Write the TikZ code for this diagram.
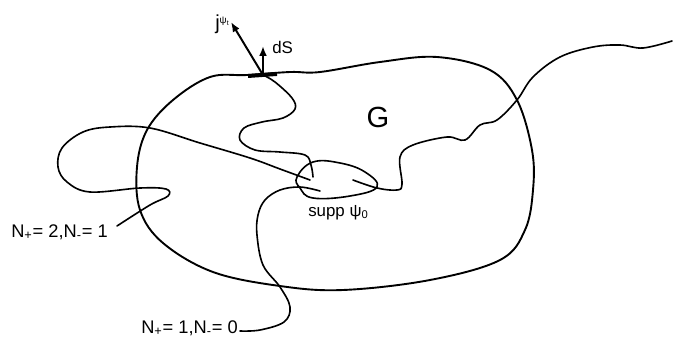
\documentclass[tikz,border=0pt]{standalone}
\usepackage{fontspec}
\setmainfont{Liberation Sans}
\usepackage{tikz}
\usetikzlibrary{positioning,calc,arrows.meta}

\begin{document}
\begin{tikzpicture}[x=0.025cm, y=-0.025cm, >={Latex[length=7pt,width=5.5pt]},
        every node/.style={font=\large, inner sep=0pt},
        count/.style={font=\fontsize{13}{15}\selectfont},
        path/.style={line width=1.15pt, line cap=round},
        region/.style={line width=1.35pt}]
        \useasboundingbox (0,0) rectangle (680,337);
        % region G
        \draw[region] plot[smooth cycle, tension=0.6] coordinates {
            (140,210) (137,167) (147,130) (173,100) (210,77) (247,75) (290,72)
            (320,72) (380,62) (437,57) (490,70) (517,100) (532,150) (533,190)
            (525,230) (500,260) (430,280) (343,290) (280,286) (213,272) (163,243)};
        % support of psi_0
        \draw[path] plot[smooth cycle, tension=0.7] coordinates {
            (297,177) (313,162) (340,163) (365,172) (377,187) (350,196) (313,198) (300,188)};
        % surface element
        \coordinate (base) at (263,75);
        \coordinate (dsTip) at (263,46);
        \coordinate (jTip) at (231,22);
        \draw[line width=2.8pt] (248,76) -- (277,74);
        \draw[->, line width=1.4pt] (base) -- (dsTip);
        \draw[->, line width=1.4pt] (base) -- (jTip);
        \node[anchor=base west] (dsLabel) at (272,53) {dS};
        \node[anchor=base east] (jLabel) at (229,29)
            {\Large j\raisebox{0.55ex}{\scriptsize ψ\raisebox{-0.4ex}{\tiny t}}};
        \node (gLabel) at (378,117) {\huge G};
        \node[anchor=base west] (suppLabel) at (308,216) {supp ψ\textsubscript{0}};
        % paths out of supp psi_0
        \draw[path] plot[smooth, tension=0.6] coordinates {
            (base) (275,82) (292,98) (295,109) (283,118) (262,122) (244,128)
            (240,140) (255,150) (280,152) (305,155) (311,165) (313,177)};
        \draw[path] plot[smooth, tension=0.6] coordinates {
            (310,180) (280,169) (250,158) (200,143) (150,128) (110,127) (83,132)
            (62,148) (58,167) (67,182) (90,192) (140,188) (166,189) (168,196)
            (150,205) (117,226)};
        \draw[path] plot[smooth, tension=0.6] coordinates {
            (353,180) (377,188) (397,190) (402,184) (400,157) (413,145) (447,137)
            (465,140) (480,125) (497,120) (517,100) (533,77) (560,57) (593,47)
            (620,45) (643,48) (672,41)};
        \draw[path] plot[smooth, tension=0.6] coordinates {
            (320,191) (300,187) (280,190) (265,200) (258,215) (257,235) (263,265)
            (280,287) (290,307) (284,322) (260,330) (240,331)};
        \node[count, anchor=base east] (twoOne) at (108,237) {N\textsubscript{+}= 2,N\textsubscript{-}= 1};
        \node[count, anchor=base east] (oneZero) at (238,333) {N\textsubscript{+}= 1,N\textsubscript{-}= 0};
    \end{tikzpicture}
\end{document}
